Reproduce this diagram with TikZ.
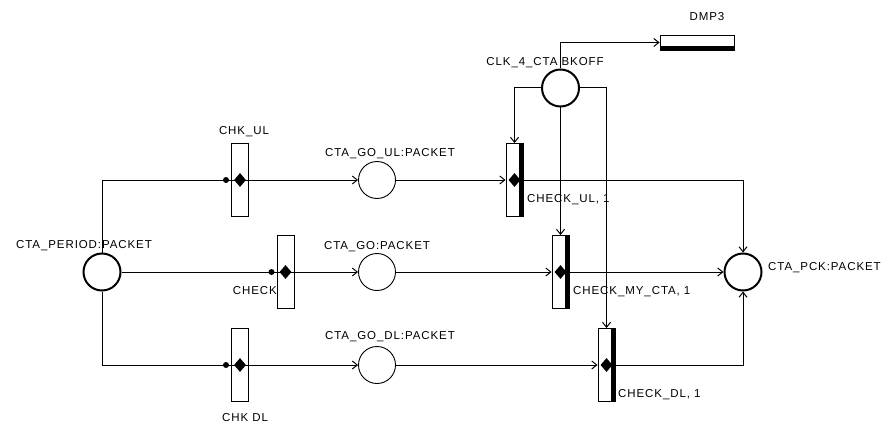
\documentclass[tikz,border=0pt]{standalone}
\usepackage{fontspec}
\setmainfont{Liberation Sans}[LetterSpace=8.0]
\usepackage{tikz}
\usetikzlibrary{
	arrows.meta,
	calc,
	positioning,
	shapes.geometric
}

\tikzset{
	place/.style={circle, draw, line width=0.9pt, minimum size=37pt, inner sep=0pt},
	bigplace/.style={place, line width=2pt},
	trans/.style={rectangle, draw, line width=0.9pt, minimum width=17pt, minimum height=73pt, inner sep=0pt},
	outtrans/.style={trans, path picture={
		\fill ([xshift=-4pt]path picture bounding box.north east) rectangle (path picture bounding box.south east);}},
	buffer/.style={rectangle, draw, line width=0.9pt, minimum width=74pt, minimum height=15pt, inner sep=0pt, path picture={
		\fill ([yshift=4pt]path picture bounding box.south west) rectangle (path picture bounding box.south east);}},
	arc/.style={line width=1pt},
	tip/.style={arc, -{Straight Barb[length=5pt,width=8pt]}},
	gate/.style={diamond, fill, inner sep=0pt, minimum width=12pt, minimum height=14pt},
	dot/.style={circle, fill, inner sep=0pt, minimum size=6pt},
	lbl/.style={inner sep=0pt, font=\fontsize{11.5}{12}\selectfont}
}

\begin{document}
\begin{tikzpicture}[x=1pt, y=-1pt]
	\useasboundingbox (0,0) rectangle (890,425);
	
	% 库所
	\node[bigplace] (period) at (102,272) {};
	\node[place] (goul) at (377,180) {};
	\node[place] (go) at (377,272) {};
	\node[place] (godl) at (377,365) {};
	\node[bigplace] (pck) at (743,272) {};
	\node[bigplace] (clk) at (560.5,88) {};
	
	% 变迁
	\node[trans] (chkul) at (240,180) {};
	\node[trans] (check) at (285.5,272) {};
	\node[trans] (chkdl) at (240,365) {};
	\node[outtrans] (ckul) at (514.5,180) {};
	\node[outtrans] (ckmy) at (560.5,272) {};
	\node[outtrans] (ckdl) at (606.5,365) {};
	\node[buffer] (dmp) at (697,42.5) {};
	
	% 弧
	\draw[arc] (period.north) |- (chkul.center);
	\draw[arc] (period.east) -- (check.center);
	\draw[arc] (period.south) |- (chkdl.center);
	\draw[tip] (chkul.center) -- (goul.west);
	\draw[tip] (check.center) -- (go.west);
	\draw[tip] (chkdl.center) -- (godl.west);
	\draw[tip] (goul.east) -- (ckul.west);
	\draw[tip] (go.east) -- (ckmy.west);
	\draw[tip] (godl.east) -- (ckdl.west);
	\draw[tip] (ckul.center) -| (pck.north);
	\draw[tip] (ckmy.center) -- (pck.west);
	\draw[tip] (ckdl.center) -| (pck.south);
	\draw[tip] (clk.west) -| (ckul.north);
	\draw[tip] (clk.south) -- (ckmy.north);
	\draw[tip] (clk.east) -| (ckdl.north);
	\draw[tip] (clk.north) |- (dmp.west);
	
	% 变迁上的标记
	\foreach \t in {chkul,check,chkdl,ckul,ckmy,ckdl}
	\node[gate] (m\t) at (\t.center) {};
	\foreach \t in {chkul,check,chkdl}
	\node[dot] (d\t) at ([xshift=-14pt]\t.center) {};
	
	% 文字
	\node[lbl] (tperiod) at (84,246) {CTA\_PERIOD:PACKET};
	\node[lbl] (tchkul) at (244,132) {CHK\_UL};
	\node[lbl] (tgoul) at (390,154) {CTA\_GO\_UL:PACKET};
	\node[lbl, anchor=east] (tcheck) at (277,291) {CHECK};
	\node[lbl] (tgo) at (377,247) {CTA\_GO:PACKET};
	\node[lbl] (tgodl) at (390,337) {CTA\_GO\_DL:PACKET};
	\node[lbl] (tchkdl) at (245,418) {CHK DL};
	\node[lbl, anchor=west] (tckul) at (527,200) {CHECK\_UL, 1};
	\node[lbl, anchor=west] (tckmy) at (573,292) {CHECK\_MY\_CTA, 1};
	\node[lbl, anchor=west] (tckdl) at (618,395) {CHECK\_DL, 1};
	\node[lbl, anchor=west] (tpck) at (768,268) {CTA\_PCK:PACKET};
	\node[lbl] (tclk) at (545,63) {CLK\_4\_CTA BKOFF};
	\node[lbl] (tdmp) at (707,17) {DMP3};
\end{tikzpicture}
\end{document}
